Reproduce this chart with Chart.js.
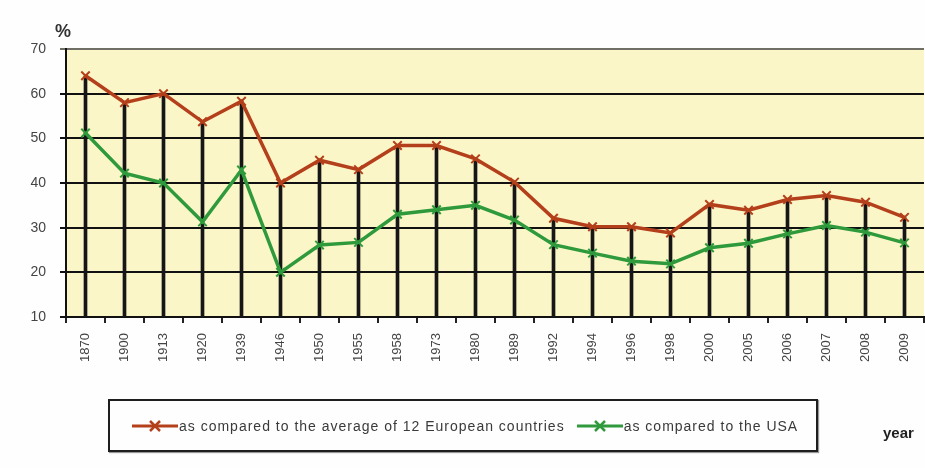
<!DOCTYPE html>
<html>
<head>
<meta charset="utf-8">
<script src="https://cdn.jsdelivr.net/npm/chart.js@4.4.1/dist/chart.umd.min.js"></script>
<style>
    html, body { margin: 0; padding: 0; background: #fefefe; overflow: hidden; }
    #wrap { position: relative; width: 925px; height: 468px; overflow: hidden; }
    #box { position: absolute; left: 0; top: 0; width: 932px; height: 468px; }
    #legend {
        position: absolute; left: 108px; top: 399px; width: 706px; height: 49px;
        border: 2px solid #1e1e1e; box-shadow: 1px 1px 1px #999;
        font-family: "Liberation Sans", Arial, sans-serif; font-size: 14px; color: #3a3a3a;
        letter-spacing: 1px;
        display: flex; align-items: center; white-space: nowrap;
    }
    #legend .item { display: flex; align-items: center; }
    #legend svg { display: block; margin-right: 1px; }
    #year {
        position: absolute; left: 883px; top: 424px;
        font-family: "Liberation Sans", Arial, sans-serif; font-size: 15px; font-weight: bold; color: #222;
    }
</style>
</head>
<body>
<div id="wrap">
    <div id="box"><canvas id="chart" width="932" height="468"></canvas></div>
    <div id="legend"></div>
    <div id="year">year</div>
</div>
<script>
const years = ['1870', '1900', '1913', '1920', '1939', '1946', '1950', '1955', '1958', '1973', '1980',
    '1989', '1992', '1994', '1996', '1998', '2000', '2005', '2006', '2007', '2008', '2009'];
const europe12 = [64, 58, 60, 53.7, 58.3, 40, 45.1, 43, 48.4, 48.4, 45.4,
    40.2, 32.1, 30.2, 30.2, 28.8, 35.2, 33.9, 36.3, 37.2, 35.7, 32.3];
const usa = [51.2, 42.2, 40, 31.3, 42.9, 20, 26.1, 26.7, 33, 34, 35,
    31.7, 26.2, 24.3, 22.5, 21.9, 25.5, 26.5, 28.6, 30.5, 29, 26.6];
const yTicks = [10, 20, 30, 40, 50, 60, 70];

const RED = '#b43f1b';
const GREEN = '#2e9a3c';
const FONT = '"Liberation Sans", Arial, sans-serif';

// pale yellow plot background plus the "%" unit above the y axis
const plotDecor = {
    id: 'plotDecor',
    beforeDraw(chart) {
        const { ctx, chartArea: a } = chart;
        ctx.save();
        ctx.fillStyle = '#fbf6c8';
        ctx.fillRect(a.left, a.top, a.right - a.left, a.bottom - a.top);
        ctx.restore();
    },
    afterDraw(chart) {
        const { ctx, chartArea: a } = chart;
        ctx.save();
        ctx.font = 'bold 18px ' + FONT;
        ctx.fillStyle = '#333';
        ctx.textAlign = 'left';
        ctx.textBaseline = 'middle';
        ctx.fillText('%', a.left - 11, a.top - 17);
        ctx.restore();
    }
};

new Chart(document.getElementById('chart'), {
    type: 'bar',
    data: {
        labels: years,
        datasets: [
            {
                type: 'line',
                label: 'as compared to the average of 12 European countries',
                data: europe12,
                borderColor: RED,
                backgroundColor: RED,
                borderWidth: 3.5,
                pointStyle: 'crossRot',
                pointRadius: 6,
                pointBorderWidth: 2,
                tension: 0,
                order: 1
            },
            {
                type: 'line',
                label: 'as compared to the USA',
                data: usa,
                borderColor: GREEN,
                backgroundColor: GREEN,
                borderWidth: 3.5,
                pointStyle: 'crossRot',
                pointRadius: 6,
                pointBorderWidth: 2,
                tension: 0,
                order: 2
            },
            {
                // drop lines from the upper series down to the axis
                label: 'drop',
                data: europe12,
                backgroundColor: '#161616',
                barThickness: 3,
                order: 3
            }
        ]
    },
    options: {
        responsive: false,
        animation: false,
        layout: { padding: { top: 49, right: 0, bottom: 0, left: 0 } },
        plugins: {
            legend: { display: false },
            tooltip: { enabled: false }
        },
        scales: {
            x: {
                offset: true,
                grid: {
                    offset: true,
                    drawOnChartArea: false,
                    drawTicks: true,
                    tickLength: 6,
                    color: '#222',
                    lineWidth: 2
                },
                border: { color: '#111', width: 2 },
                ticks: {
                    autoSkip: false,
                    maxRotation: 90,
                    minRotation: 90,
                    padding: 10,
                    color: '#444',
                    font: { family: FONT, size: 13 }
                },
                afterFit(scale) { scale.height = 151; }
            },
            y: {
                min: 10,
                max: 70,
                afterBuildTicks(scale) { scale.ticks = yTicks.map(v => ({ value: v })); },
                grid: {
                    color: c => (c.tick && c.tick.value === 70 ? '#6f6f66' : '#111'),
                    lineWidth: 2,
                    tickLength: 6
                },
                border: { color: '#111', width: 2 },
                ticks: {
                    padding: 14,
                    color: '#444',
                    font: { family: FONT, size: 14 }
                },
                afterFit(scale) { scale.width = 66; }
            }
        }
    },
    plugins: [plotDecor]
});

// legend entries: short line with an X marker, then the series name
function marker(color) {
    return '<svg width="46" height="14" viewBox="0 0 46 14">' +
        '<line x1="0" y1="7" x2="46" y2="7" stroke="' + color + '" stroke-width="3"/>' +
        '<line x1="18" y1="2" x2="28" y2="12" stroke="' + color + '" stroke-width="2.5"/>' +
        '<line x1="28" y1="2" x2="18" y2="12" stroke="' + color + '" stroke-width="2.5"/>' +
        '</svg>';
}
const legendEl = document.getElementById('legend');
legendEl.innerHTML =
    '<div class="item" style="margin-left:22px">' + marker(RED) + '<span>as compared to the average of 12 European countries</span></div>' +
    '<div class="item" style="margin-left:12px">' + marker(GREEN) + '<span>as compared to the USA</span></div>';
</script>
</body>
</html>
